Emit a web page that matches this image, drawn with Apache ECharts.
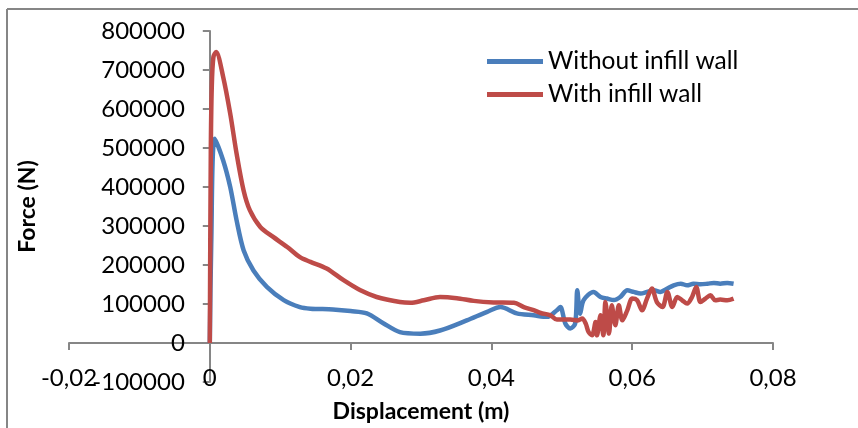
<!DOCTYPE html>
<html>
<head>
<meta charset="utf-8">
<script src="https://cdn.jsdelivr.net/npm/echarts@6/dist/echarts.min.js"></script>
<style>html,body{margin:0;padding:0;background:#fff}#c{width:858px;height:428px}</style>
</head>
<body>
<div id="c"></div>
<script>
const seriesNames = ['Without infill wall', 'With infill wall'];
const xTicks = [-0.02, 0, 0.02, 0.04, 0.06, 0.08];
const yTicks = [-100000, 0, 100000, 200000, 300000, 400000, 500000, 600000, 700000, 800000];
const withoutWall = [
  [0,0],[0.0002,250000],[0.0007,524000],[0.0019,468000],[0.0029,400000],[0.0038,315000],
  [0.0048,238000],[0.0062,186000],[0.0081,144000],[0.0105,110000],[0.0128,92000],[0.0143,88000],
  [0.0175,86000],[0.020,82000],[0.0223,76000],[0.0247,50000],[0.027,28000],[0.0299,24000],
  [0.0327,32000],[0.0365,58000],[0.0394,80000],[0.0413,92000],[0.0436,76000],[0.046,71000],
  [0.0479,67000],[0.0493,84000],[0.0498,92000],[0.0505,50000],[0.0512,37000],[0.0519,50000],
  [0.0522,135000],[0.0526,75000],[0.0531,110000],[0.0545,131000],[0.0555,118000],[0.0564,114000],
  [0.0574,110000],[0.0583,118000],[0.0593,135000],[0.0602,131000],[0.0612,127000],[0.0621,131000],
  [0.0631,135000],[0.0640,131000],[0.0650,139500],[0.0659,148000],[0.0669,152000],[0.0678,148000],
  [0.0687,152000],[0.0697,150500],[0.0707,152000],[0.0716,154000],[0.0725,152000],[0.0735,154000],
  [0.0744,152000]
];
const withWall = [
  [0,0],[0.00014,486000],[0.00028,656000],[0.00051,733000],[0.0009,746000],[0.0019,682000],
  [0.0029,588000],[0.0038,486000],[0.0048,391000],[0.0057,340000],[0.0072,297000],[0.009,272000],
  [0.011,246000],[0.0128,220000],[0.0143,208000],[0.0166,191000],[0.019,161000],[0.0214,135000],
  [0.0237,118000],[0.027,105000],[0.0285,103000],[0.0304,109500],[0.0327,118000],[0.0351,115000],
  [0.0375,108000],[0.0403,104000],[0.0432,103000],[0.0446,92000],[0.046,84000],[0.047,77000],
  [0.0484,71000],[0.0493,60000],[0.0512,60000],[0.0522,58000],[0.0529,62600],[0.0534,49700],
  [0.0538,28200],[0.0543,19700],[0.0548,53800],[0.055,19700],[0.0555,71000],[0.0559,19700],
  [0.0562,105000],[0.0567,24100],[0.0571,96700],[0.0576,45400],[0.0581,96700],[0.0586,58200],
  [0.0593,83800],[0.060,113800],[0.0607,109500],[0.0614,83800],[0.0621,113800],[0.0628,139500],
  [0.0635,105000],[0.0643,92300],[0.065,130800],[0.0657,92300],[0.0664,118000],[0.0671,109500],
  [0.0678,101000],[0.0685,118000],[0.0691,143600],[0.0697,105000],[0.0704,113800],[0.0711,122300],
  [0.0718,109500],[0.0725,111300],[0.0735,109500],[0.0744,113800]
];

const FONT = 'Lato';
const axisColor = '#868686';
const chart = echarts.init(document.getElementById('c'), null, {renderer: 'canvas'});
const xFmt = v => (v === 0 ? '0' : String(+v.toFixed(2)).replace('.', ','));
chart.setOption({
  animation: false,
  backgroundColor: '#fff',
  textStyle: {fontFamily: FONT},
  grid: {left: 69, right: 85, top: 31, bottom: 46, containLabel: false, outerBoundsMode: 'none'},
  graphic: [
    {type: 'line', shape: {x1: 7, y1: 9, x2: 7, y2: 428}, style: {stroke: axisColor, lineWidth: 2}},
    {type: 'line', shape: {x1: 7, y1: 9, x2: 858, y2: 9}, style: {stroke: axisColor, lineWidth: 2}}
  ],
  legend: {
    orient: 'vertical', left: 487, top: 49, padding: 0,
    itemWidth: 56, itemHeight: 5, itemGap: 8, icon: 'rect',
    textStyle: {fontFamily: FONT, fontSize: 24.5, color: '#000', padding: [0, 0, 0, 0]},
    data: seriesNames
  },
  xAxis: [
    {
      type: 'value', position: 'bottom', min: xTicks[0], max: xTicks[xTicks.length - 1], interval: 0.02,
      axisLine: {show: true, onZero: true, lineStyle: {color: axisColor, width: 2}},
      axisTick: {show: true, inside: false, length: 7, lineStyle: {color: axisColor, width: 2}},
      axisLabel: {show: false},
      splitLine: {show: false}
    },
    {
      type: 'value', position: 'bottom', min: xTicks[0], max: xTicks[xTicks.length - 1], interval: 0.02,
      axisLine: {show: false, onZero: false},
      axisTick: {show: false},
      axisLabel: {show: true, margin: -16, color: '#000', fontFamily: FONT, fontSize: 24, formatter: xFmt},
      splitLine: {show: false},
      name: 'Displacement (m)', nameLocation: 'middle', nameGap: 18,
      nameTextStyle: {fontFamily: FONT, fontSize: 23, fontWeight: 'bold', color: '#000'}
    }
  ],
  yAxis: {
    type: 'value', position: 'left', min: yTicks[0], max: yTicks[yTicks.length - 1], interval: 100000,
    axisLine: {show: true, onZero: false, lineStyle: {color: axisColor, width: 2}},
    axisTick: {show: true, inside: false, length: 7, lineStyle: {color: axisColor, width: 2}},
    axisLabel: {show: true, margin: 25, color: '#000', fontFamily: FONT, fontSize: 24, formatter: v => String(v)},
    splitLine: {show: false},
    name: 'Force (N)', nameLocation: 'middle', nameGap: 171, nameRotate: 90,
    nameTextStyle: {fontFamily: FONT, fontSize: 23, fontWeight: 'bold', color: '#000'}
  },
  series: [
    {name: seriesNames[0], type: 'line', xAxisIndex: 0, data: withoutWall, showSymbol: false, smooth: 0.3,
     lineStyle: {color: '#4A7EBB', width: 4.5}, itemStyle: {color: '#4A7EBB'}, z: 2},
    {name: seriesNames[1], type: 'line', xAxisIndex: 0, data: withWall, showSymbol: false, smooth: 0.3,
     lineStyle: {color: '#BE4B48', width: 4.5}, itemStyle: {color: '#BE4B48'}, z: 3}
  ]
});
// Place the y axis where x = 0, using the x axis scale
const zeroPx = chart.convertToPixel({xAxisIndex: 0}, 0);
const minPx = chart.convertToPixel({xAxisIndex: 0}, xTicks[0]);
chart.setOption({yAxis: {offset: -(zeroPx - minPx)}});
</script>
</body>
</html>
